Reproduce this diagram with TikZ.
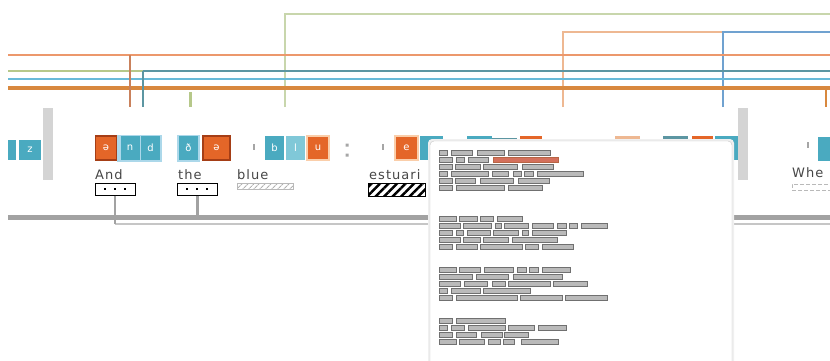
\documentclass[tikz,border=0pt]{standalone}
\usepackage{fontspec}
\setmainfont{DejaVu Sans}
\newfontfamily\wordfont[LetterSpace=8]{DejaVu Sans}
\usepackage{xcolor}
\usepackage{tikz}
\usetikzlibrary{patterns.meta}

\definecolor{phonteal}{RGB}{74,170,192}
\definecolor{phonpale}{RGB}{128,200,216}
\definecolor{phonlight}{RGB}{172,216,234}
\definecolor{vowelorng}{RGB}{228,102,40}
\definecolor{voweldark}{RGB}{165,62,22}
\definecolor{vowelglow}{RGB}{250,206,170}
\definecolor{sage}{RGB}{200,214,172}
\definecolor{ornlight}{RGB}{238,184,146}
\definecolor{bluelink}{RGB}{112,162,208}
\definecolor{salmon}{RGB}{236,152,108}
\definecolor{olive}{RGB}{182,200,138}
\definecolor{tealline}{RGB}{92,150,162}
\definecolor{skyline}{RGB}{104,186,216}
\definecolor{amber}{RGB}{216,136,62}
\definecolor{sepgray}{RGB}{212,212,212}
\definecolor{busgray}{RGB}{162,162,162}
\definecolor{thingray}{RGB}{198,198,198}
\definecolor{wordgray}{RGB}{70,70,70}
\definecolor{barfill}{RGB}{186,186,186}
\definecolor{bardraw}{RGB}{112,112,112}
\definecolor{barred}{RGB}{212,112,92}

\begin{document}
\begin{tikzpicture}[x=1pt,y=-1pt,
  phon/.style={fill=phonteal,text=white,inner sep=0pt,minimum height=24pt,font=\fontsize{10}{10}\selectfont},
  vowel/.style={phon,fill=vowelorng,draw=voweldark,line width=1.5pt},
  word/.style={anchor=base west,inner sep=0pt,text=wordgray,font=\wordfont\fontsize{13}{13}\selectfont},
  dotbox/.style={draw=black,fill=white,line width=1pt,minimum width=40pt,minimum height=12pt,inner sep=0pt},
  tick/.style={gray!70,line width=2pt},
  bar/.style={fill=barfill,draw=bardraw,line width=0.8pt}]
  \useasboundingbox (0,0) rectangle (830,360);

  % links above the phonemes
  \coordinate (f1) at (130,107);
  \coordinate (f2) at (143,107);
  \coordinate (f3) at (190,107);
  \coordinate (f4) at (285,107);
  \coordinate (f5) at (563,107);
  \coordinate (f6) at (723,107);
  \coordinate (f7) at (826,107);
  \draw[sage,line width=1.5pt] (f4) -- (285,14) -- (830,14);
  \draw[ornlight,line width=1.5pt] (f5) -- (563,32) -- (723,32);
  \draw[bluelink,line width=1.5pt] (f6) -- (723,32) -- (830,32);
  \draw[salmon,line width=2.5pt] (8,55) -- (830,55);
  \draw[olive,line width=2.5pt] (8,71) -- (143,71);
  \draw[tealline,line width=2.5pt] (143,71) -- (830,71);
  \draw[skyline,line width=2.5pt] (8,79) -- (830,79);
  \draw[amber,line width=4pt] (8,88) -- (830,88);
  \draw[salmon!85!black,line width=2pt] (130,55) -- (f1);
  \draw[tealline,line width=2pt] (143,71) -- (f2);
  \draw[olive,line width=3pt] (190,92) -- (f3);
  \draw[amber,line width=2pt] (826,88) -- (f7);

  % separators
  \fill[sepgray] (43,108) rectangle (53,180);
  \fill[sepgray] (738,108) rectangle (748,180);

  % phonemes
  \node[phon,minimum width=8pt,minimum height=20pt] (zpre) at (12,150) {};
  \node[phon,minimum width=22pt,minimum height=20pt] (zz) at (30,150) {z};

  \fill[phonlight] (117,135) rectangle (162,162);
  \node[vowel,minimum width=21pt] (and1) at (106,148) {ə};
  \node[phon,minimum width=19pt] (and2) at (130,148) {n};
  \node[phon,minimum width=19pt] (and3) at (150.5,148) {d};

  \fill[phonlight] (177,135) rectangle (200,162);
  \node[phon,minimum width=19pt] (the1) at (188.5,148) {ð};
  \node[vowel,minimum width=27pt] (the2) at (216.5,148) {ə};

  \draw[tick] (254,144) -- (254,150);
  \node[phon,minimum width=19pt] (blue1) at (274.5,148) {b};
  \node[phon,fill=phonpale,minimum width=19pt] (blue2) at (295.5,148) {l};
  \node[phon,fill=vowelorng,draw=vowelglow,line width=1.5pt,minimum width=22pt] (blue3) at (318,148) {u};
  \fill[gray!70] (345.5,143.5) rectangle (348.5,146.5) (345.5,153.5) rectangle (348.5,156.5);

  \draw[tick] (383,144) -- (383,150);
  \node[phon,fill=vowelorng,draw=vowelglow,line width=2pt,minimum width=23pt] (est1) at (406.5,148) {e};
  \node[phon,minimum width=23pt] (est2) at (431.5,148) {};
  \node[phon,minimum width=25pt] (est3) at (479.5,148) {};
  \draw[tealline,line width=1pt] (est3.east) ++(0,-10) -- ++(25,0);
  \node[phon,fill=vowelorng,minimum width=22pt] (est4) at (531,148) {};
  \node[phon,fill=ornlight,minimum width=25pt] (est5) at (627.5,148) {};
  \node[phon,fill=tealline,minimum width=25pt] (est6) at (675.5,148) {};
  \node[phon,fill=vowelorng,minimum width=21pt] (est7) at (702.5,148) {};
  \node[phon,minimum width=23pt] (est8) at (726.5,148) {};

  \draw[tick] (808,142) -- (808,148);
  \node[phon,minimum width=24pt] (whe1) at (830,149) {};

  % words
  \node[word] (wAnd) at (95,179) {And};
  \node[word] (wThe) at (178,179) {the};
  \node[word] (wBlue) at (237,179) {blue};
  \node[word] (wEst) at (369,179) {estuari};
  \node[word] (wWhe) at (792,177) {Whe};

  \node[dotbox] (bAnd) at (115,189) {};
  \node[dotbox] (bThe) at (197,189) {};
  \foreach \dx in {-10,0,10} {
    \fill (115+\dx-1.4,189-1.4) rectangle (115+\dx+1.4,189+1.4);
    \fill (197+\dx-1.4,189-1.4) rectangle (197+\dx+1.4,189+1.4);
  }
  \node[draw=gray!55,minimum width=56pt,minimum height=6pt,inner sep=0pt,
    pattern={Lines[angle=45,distance=4pt,line width=1.2pt]},pattern color=gray!60] (bBlue) at (265,186) {};
  \node[draw=black,line width=1pt,minimum width=57pt,minimum height=13pt,inner sep=0pt,
    pattern={Lines[angle=45,distance=6pt,line width=2.4pt]},pattern color=black] (bEst) at (396.5,189.5) {};
  \node[draw=gray!55,dash pattern=on 4pt off 2pt,minimum width=42pt,minimum height=6pt,inner sep=0pt] (bWhe) at (813,187) {};

  % links below the words
  \coordinate (busL) at (8,217);
  \coordinate (busR) at (830,217);
  \coordinate (thinR) at (830,224);
  \draw[busgray,line width=5pt] (busL) -- (busR);
  \draw[thingray,line width=2pt] (bAnd.south |- thinR) -- (thinR);
  \draw[busgray,line width=1.2pt] (bAnd.south) -- (bAnd.south |- thinR);
  \draw[busgray,line width=3pt] (bThe.south) -- (bThe.south |- busL);

  % popup
  \fill[gray!12,rounded corners=4pt] (428,139) rectangle (734,372);
  \draw[gray!45,fill=white,rounded corners=4pt] (430,141) rectangle (732,370);
  \foreach \y/\segs in {
    153/{439/447,451/472,477/504,508/550},
    160/{439/452,456/464,468/488},
    167/{439/452,455/480,483/517,522/553},
    174/{439/447,451/488,492/508,513/521,524/533,537/583},
    181/{439/452,455/475,480/513,518/549},
    188/{439/452,456/504,508/542},
    219/{439/456,459/477,480/493,497/522},
    226/{439/460,463/491,495/501,504/528,532/553,557/566,569/577,581/607},
    233/{439/452,456/463,467/490,493/518,522/528,532/566},
    240/{439/460,463/480,483/508,512/557},
    247/{439/452,456/477,480/522,525/538,542/573},
    270/{439/456,459/480,484/513,517/526,529/538,542/570},
    277/{439/472,476/508,513/562},
    284/{439/460,464/487,492/505,508/550,553/587},
    291/{439/447,451/480,483/530},
    298/{439/452,456/517,520/562,565/607},
    321/{439/452,456/505},
    328/{439/447,451/464,468/505,508/534,538/566},
    335/{439/452,456/476,481/502,504/528},
    342/{439/456,459/484,488/500,503/514,521/558}} {
    \foreach \a/\b in \segs
      \draw[bar] (\a,\y-2.5) rectangle (\b,\y+2.5);
  }
  \draw[bar,fill=barred,draw=voweldark!80] (493,157.5) rectangle (558,162.5);
\end{tikzpicture}
\end{document}
